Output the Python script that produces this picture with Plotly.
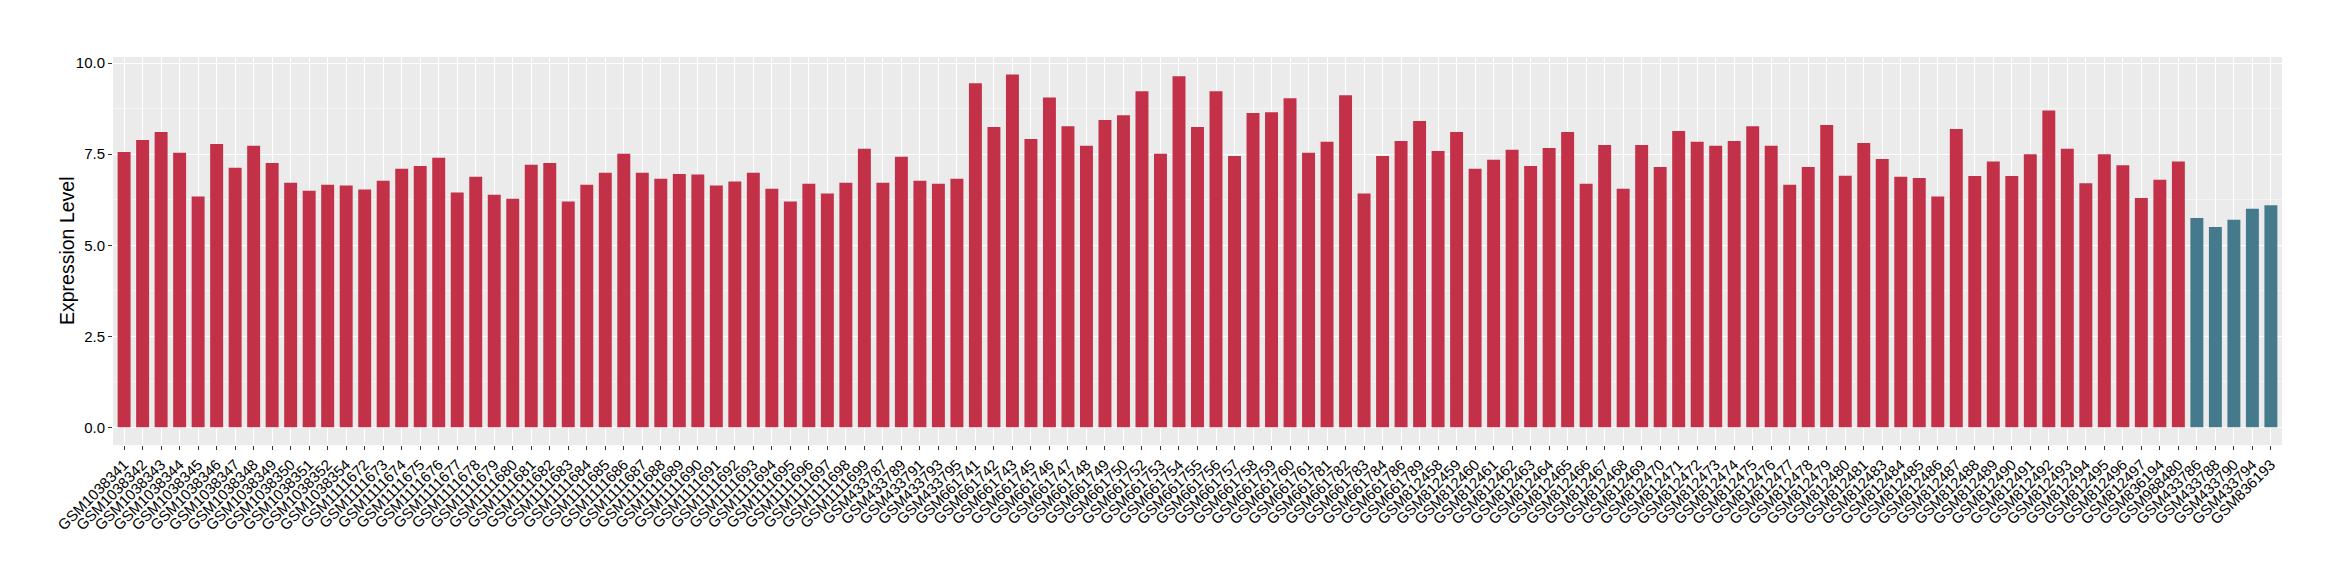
import plotly.graph_objects as go

samples = (
    ["GSM10383%02d" % n for n in [41, 42, 43, 44, 45, 46, 47, 48, 49, 50, 51, 52, 54]]
    + ["GSM1111%03d" % n for n in [672, 673, 674, 675, 676, 677, 678, 679, 680, 681, 682, 683, 684, 685,
                                   686, 687, 688, 689, 690, 691, 692, 693, 694, 695, 696, 697, 698, 699]]
    + ["GSM433787", "GSM433789", "GSM433791", "GSM433793", "GSM433795"]
    + ["GSM661%03d" % n for n in [741, 742, 743, 745, 746, 747, 748, 749, 750, 752, 753, 754, 755, 756,
                                  757, 758, 759, 760, 761, 781, 782, 783, 784, 786, 789]]
    + ["GSM812%03d" % n for n in [458, 459, 460, 461, 462, 463, 464, 465, 466, 467, 468, 469, 470, 471,
                                  472, 473, 474, 475, 476, 477, 478, 479, 480, 481, 483, 484, 485, 486,
                                  487, 488, 489, 490, 491, 492, 493, 494, 495, 496, 497]]
    + ["GSM836194", "GSM988480"]
    + ["GSM433786", "GSM433788", "GSM433790", "GSM433794", "GSM836193"]
)

expression = [
    7.56, 7.89, 8.11, 7.54, 6.34, 7.78, 7.13, 7.73, 7.26, 6.72, 6.50, 6.66, 6.64, 6.53, 6.77, 7.10, 7.18, 7.40, 6.45, 6.88,
    6.39, 6.28, 7.21, 7.26, 6.20, 6.66, 6.99, 7.51, 6.99, 6.83, 6.96, 6.94, 6.64, 6.75, 6.99, 6.55, 6.20, 6.69, 6.42, 6.72,
    7.65, 6.72, 7.43, 6.77, 6.69, 6.83, 9.45, 8.25, 9.69, 7.92, 9.06, 8.27, 7.73, 8.44, 8.57, 9.23, 7.51, 9.64, 8.25, 9.23,
    7.45, 8.63, 8.65, 9.04, 7.54, 7.84, 9.12, 6.42, 7.45, 7.86, 8.41, 7.59, 8.11, 7.10, 7.35, 7.62, 7.18, 7.67, 8.11, 6.69,
    7.75, 6.55, 7.75, 7.15, 8.14, 7.84, 7.73, 7.86, 8.27, 7.73, 6.66, 7.15, 8.30, 6.91, 7.81, 7.37, 6.88, 6.85, 6.34, 8.19,
    6.90, 7.30, 6.90, 7.50, 8.70, 7.65, 6.70, 7.50, 7.20, 6.30, 6.80, 7.30, 5.75, 5.50, 5.70, 6.00, 6.10,
]

groups = ["tumor"] * 112 + ["normal"] * 5

group_colors = {"tumor": "#C33149", "normal": "#457A8C"}

fig = go.Figure(go.Bar(
    x=samples,
    y=expression,
    marker_color=[group_colors[g] for g in groups],
    marker_line_width=0,
    width=0.7,
    showlegend=False,
))

# page body adds an 8px offset, so margins are shifted to compensate
fig.update_layout(
    width=2340,
    height=580,
    paper_bgcolor="white",
    plot_bgcolor="#EBEBEB",
    font=dict(family="Liberation Sans, Arial, sans-serif", color="black"),
    margin=dict(l=105, r=66, t=49, b=143),
    bargap=0.3,
    xaxis=dict(
        type="category",
        automargin=False,
        range=[-0.6, len(samples) - 0.4],
        showgrid=True,
        gridcolor="white",
        gridwidth=1,
        zeroline=False,
        ticks="outside",
        ticklen=4,
        tickwidth=1,
        tickcolor="#333333",
        tickangle=-45,
        tickfont=dict(size=15, color="black"),
    ),
    yaxis=dict(
        automargin=False,
        range=[-0.485, 10.17],
        tickvals=[0, 2.5, 5, 7.5, 10],
        tickformat=".1f",
        showgrid=True,
        gridcolor="white",
        gridwidth=1.3,
        zeroline=False,
        ticks="outside",
        ticklen=4,
        tickwidth=1,
        tickcolor="#333333",
        tickfont=dict(size=15, color="black"),
        minor=dict(dtick=1.25, tick0=0, showgrid=True, gridcolor="#F5F5F5", gridwidth=0.7, ticks=""),
    ),
    annotations=[dict(
        text="Expression Level",
        xref="paper", yref="paper",
        x=0, y=0.5,
        xshift=-46,
        xanchor="center", yanchor="middle",
        textangle=-90,
        showarrow=False,
        font=dict(size=19.5, color="black"),
    )],
)

fig.write_html("out.html")
